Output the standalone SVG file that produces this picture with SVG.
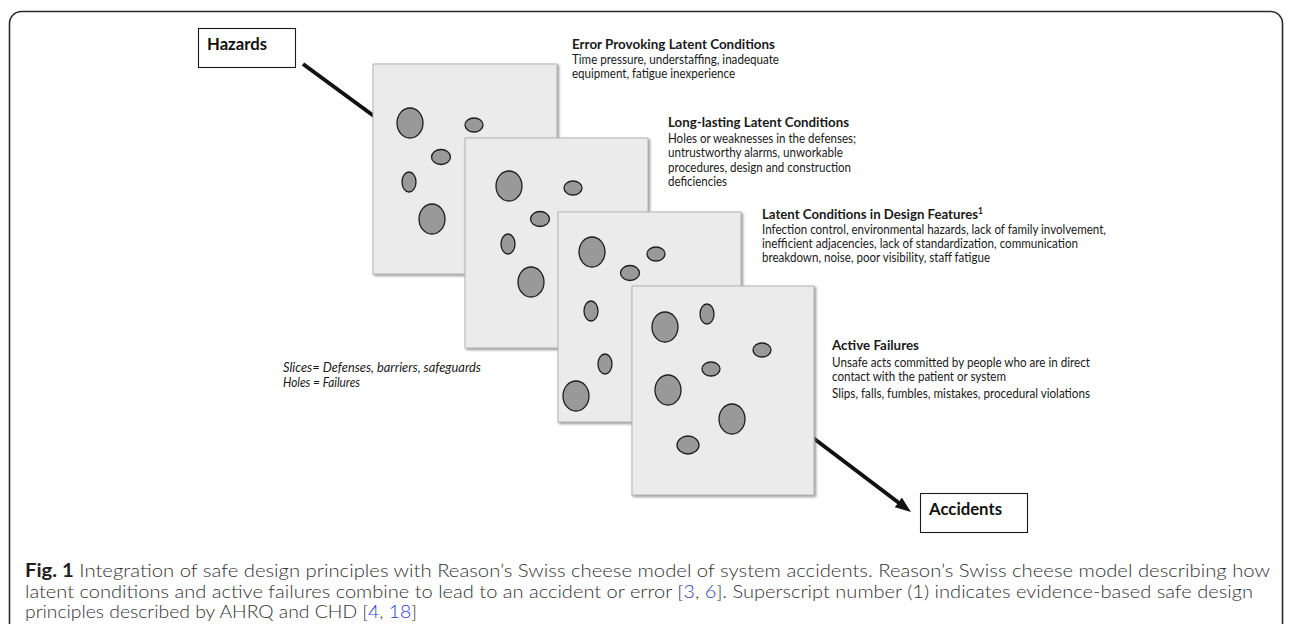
<svg xmlns="http://www.w3.org/2000/svg" width="1290" height="624" viewBox="0 0 1290 624">
  <defs>
    <style>
      .frame { fill: none; stroke: #2b2b2b; stroke-width: 1.6; }
      .box { fill: #ffffff; stroke: #1a1a1a; stroke-width: 1.1; }
      .boxlabel { font-family: Lato, "Open Sans", sans-serif; font-weight: 700; font-size: 17px; fill: #111; }
      .slice { fill: #ebebeb; stroke: #b5b5b5; stroke-width: 1; filter: url(#shadow); }
      .hole { fill: #999999; stroke: #1e1e1e; stroke-width: 1.3; }
      .conn { stroke: #111; stroke-width: 4; fill: none; }
      .title { font-family: Lato, "Open Sans", sans-serif; font-weight: 700; font-size: 13px; fill: #1a1a1a; }
      .body { font-family: Lato, "Open Sans", sans-serif; font-size: 12.6px; fill: #1a1a1a; }
      .note { font-family: Lato, "Open Sans", sans-serif; font-style: italic; font-size: 12.6px; fill: #1a1a1a; }
      .cap { font-family: Lato, "Open Sans", sans-serif; font-weight: 300; font-size: 18px; fill: #333333; }
      .capb { font-weight: 700; fill: #231f20; }
      .ref { fill: #2b3fe0; }
    </style>
    <filter id="shadow" x="-5%" y="-5%" width="115%" height="115%">
      <feDropShadow dx="1.5" dy="1.5" stdDeviation="1" flood-color="#7a7a7a" flood-opacity="0.8"/>
    </filter>
    <marker id="arrow" viewBox="0 0 16 12" refX="6" refY="6" markerWidth="16" markerHeight="12" markerUnits="userSpaceOnUse" orient="auto">
      <path d="M0,0 L16,6 L0,12 z" fill="#111"/>
    </marker>
  </defs>

  <!-- figure border -->
  <rect class="frame" x="9.5" y="11.5" width="1273" height="700" rx="12"/>

  <!-- connectors (drawn beneath the slices) -->
  <g id="connectors">
    <line class="conn" x1="303" y1="64" x2="382" y2="122"/>
    <line class="conn" x1="800" y1="428" x2="903" y2="506" marker-end="url(#arrow)"/>
  </g>

  <g id="hazards">
    <rect class="box" x="198.5" y="28.5" width="97" height="39"/>
    <text class="boxlabel" x="207" y="50" textLength="60" lengthAdjust="spacingAndGlyphs">Hazards</text>
  </g>

  <g id="accidents">
    <rect class="box" x="920.5" y="493.5" width="107" height="39"/>
    <text class="boxlabel" x="929" y="515" textLength="73" lengthAdjust="spacingAndGlyphs">Accidents</text>
  </g>

  <!-- cheese slices, back to front -->
  <g id="slice1">
    <rect class="slice" x="373" y="64" width="184" height="210"/>
    <ellipse class="hole" cx="410" cy="123" rx="13" ry="15"/>
    <ellipse class="hole" cx="474" cy="125" rx="9" ry="7"/>
    <ellipse class="hole" cx="441" cy="157" rx="9.5" ry="7.5"/>
    <ellipse class="hole" cx="409" cy="182" rx="7" ry="10"/>
    <ellipse class="hole" cx="432" cy="219" rx="13" ry="15"/>
  </g>

  <g id="slice2">
    <rect class="slice" x="465" y="138" width="183" height="210"/>
    <ellipse class="hole" cx="509" cy="186" rx="13" ry="15"/>
    <ellipse class="hole" cx="573" cy="188" rx="9" ry="7"/>
    <ellipse class="hole" cx="540" cy="219" rx="9.5" ry="7.5"/>
    <ellipse class="hole" cx="508" cy="244" rx="7" ry="10"/>
    <ellipse class="hole" cx="531" cy="282" rx="13" ry="15"/>
  </g>

  <g id="slice3">
    <rect class="slice" x="558" y="212" width="183" height="210"/>
    <ellipse class="hole" cx="592" cy="252" rx="13" ry="15"/>
    <ellipse class="hole" cx="656" cy="254" rx="9" ry="7"/>
    <ellipse class="hole" cx="630" cy="273" rx="9.5" ry="7.5"/>
    <ellipse class="hole" cx="591" cy="311" rx="7" ry="10"/>
    <ellipse class="hole" cx="605" cy="364" rx="7" ry="10"/>
    <ellipse class="hole" cx="576" cy="396" rx="13" ry="15"/>
  </g>

  <g id="slice4">
    <rect class="slice" x="632" y="286" width="182" height="209"/>
    <ellipse class="hole" cx="665" cy="327" rx="13" ry="15"/>
    <ellipse class="hole" cx="707" cy="314" rx="7" ry="10"/>
    <ellipse class="hole" cx="762" cy="350" rx="9" ry="7"/>
    <ellipse class="hole" cx="711" cy="369" rx="9" ry="7"/>
    <ellipse class="hole" cx="668" cy="390" rx="13" ry="15"/>
    <ellipse class="hole" cx="732" cy="419" rx="13" ry="15"/>
    <ellipse class="hole" cx="688" cy="445" rx="11" ry="9"/>
  </g>

  <!-- slice descriptions -->
  <g id="label-error-provoking">
    <text class="title" x="572" y="48.5" textLength="203" lengthAdjust="spacingAndGlyphs">Error Provoking Latent Conditions</text>
    <text class="body" x="572" y="64" textLength="207" lengthAdjust="spacingAndGlyphs">Time pressure, understaffing, inadequate</text>
    <text class="body" x="572" y="77.5" textLength="163" lengthAdjust="spacingAndGlyphs">equipment, fatigue inexperience</text>
  </g>

  <g id="label-long-lasting">
    <text class="title" x="668" y="126.5" textLength="181" lengthAdjust="spacingAndGlyphs">Long-lasting Latent Conditions</text>
    <text class="body" x="668" y="142.5" textLength="188" lengthAdjust="spacingAndGlyphs">Holes or weaknesses in the defenses;</text>
    <text class="body" x="668" y="157" textLength="175" lengthAdjust="spacingAndGlyphs">untrustworthy alarms, unworkable</text>
    <text class="body" x="668" y="171.5" textLength="183" lengthAdjust="spacingAndGlyphs">procedures, design and construction</text>
    <text class="body" x="668" y="185.5" textLength="59" lengthAdjust="spacingAndGlyphs">deficiencies</text>
  </g>

  <g id="label-design-features">
    <text class="title" x="762" y="218.5"><tspan textLength="216" lengthAdjust="spacingAndGlyphs">Latent Conditions in Design Features</tspan><tspan font-size="8.5" dy="-4.5">1</tspan></text>
    <text class="body" x="762" y="234" textLength="344" lengthAdjust="spacingAndGlyphs">Infection control, environmental hazards, lack of family involvement,</text>
    <text class="body" x="762" y="248" textLength="316" lengthAdjust="spacingAndGlyphs">inefficient adjacencies, lack of standardization, communication</text>
    <text class="body" x="762" y="262" textLength="228" lengthAdjust="spacingAndGlyphs">breakdown, noise, poor visibility, staff fatigue</text>
  </g>

  <g id="label-active-failures">
    <text class="title" x="832" y="350" textLength="87" lengthAdjust="spacingAndGlyphs">Active Failures</text>
    <text class="body" x="832" y="366.5" textLength="258" lengthAdjust="spacingAndGlyphs">Unsafe acts committed by people who are in direct</text>
    <text class="body" x="832" y="381" textLength="174" lengthAdjust="spacingAndGlyphs">contact with the patient or system</text>
    <text class="body" x="832" y="397.5" textLength="258" lengthAdjust="spacingAndGlyphs">Slips, falls, fumbles, mistakes, procedural violations</text>
  </g>

  <g id="legend">
    <text class="note" x="283" y="372" textLength="198" lengthAdjust="spacingAndGlyphs">Slices= Defenses, barriers, safeguards</text>
    <text class="note" x="283" y="387" textLength="77" lengthAdjust="spacingAndGlyphs">Holes = Failures</text>
  </g>

  <!-- caption -->
  <g id="caption">
    <text class="cap" x="25" y="577" textLength="1245" lengthAdjust="spacingAndGlyphs"><tspan class="capb">Fig. 1</tspan> Integration of safe design principles with Reason’s Swiss cheese model of system accidents. Reason’s Swiss cheese model describing how</text>
    <text class="cap" x="25" y="598" textLength="1228" lengthAdjust="spacingAndGlyphs">latent conditions and active failures combine to lead to an accident or error [<tspan class="ref">3</tspan>, <tspan class="ref">6</tspan>]. Superscript number (1) indicates evidence-based safe design</text>
    <text class="cap" x="25" y="618" textLength="392" lengthAdjust="spacingAndGlyphs">principles described by AHRQ and CHD [<tspan class="ref">4</tspan>, <tspan class="ref">18</tspan>]</text>
  </g>
</svg>
